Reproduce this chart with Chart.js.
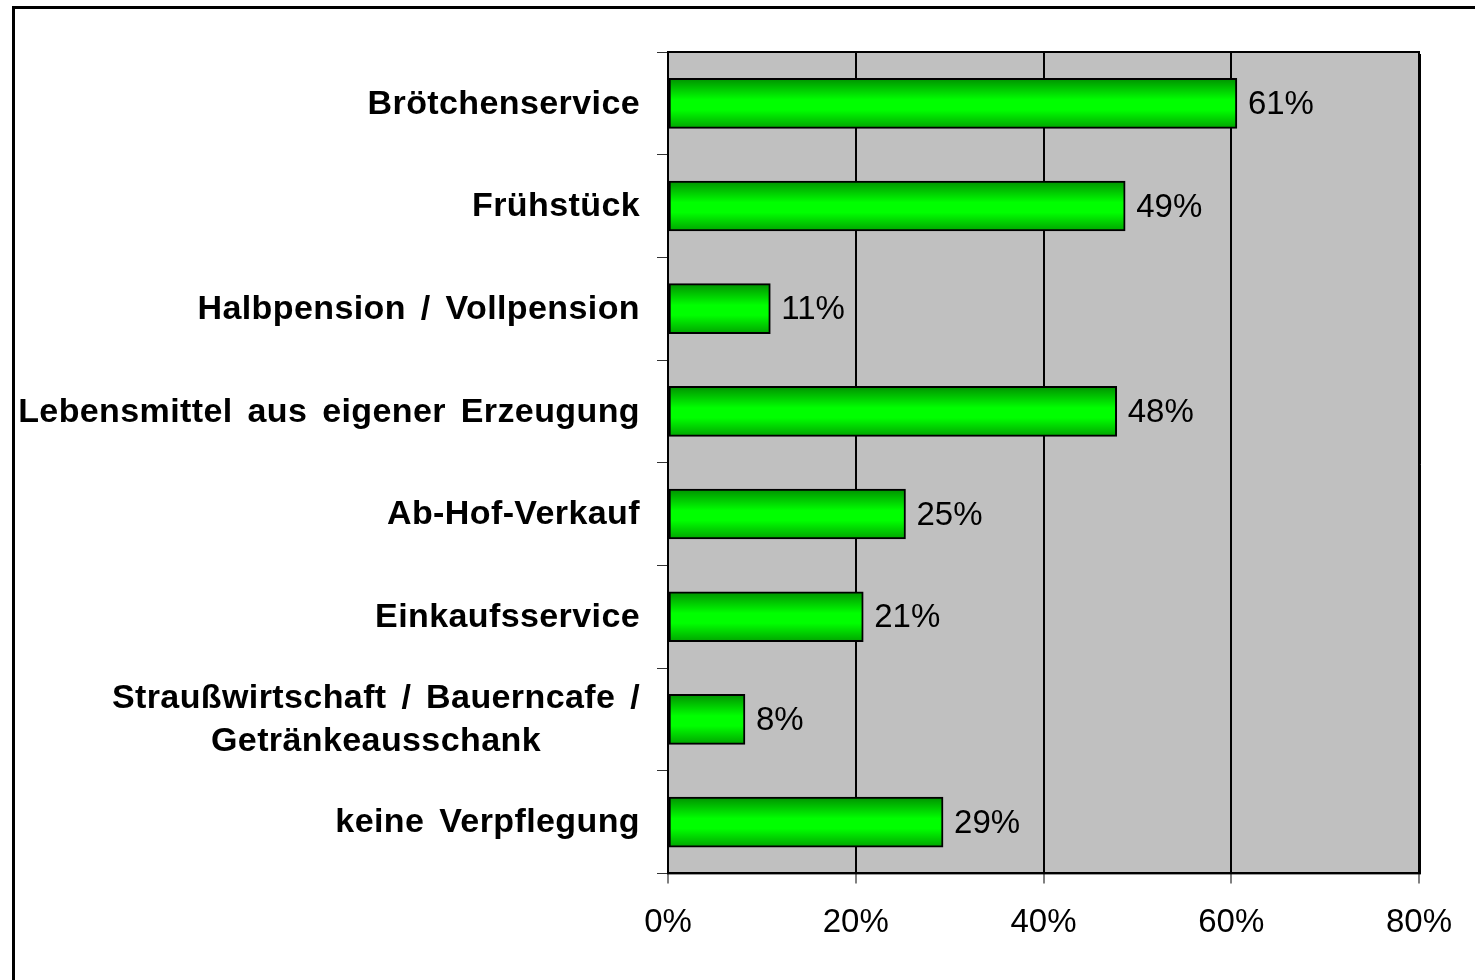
<!DOCTYPE html>
<html>
<head>
<meta charset="utf-8">
<script src="https://cdn.jsdelivr.net/npm/chart.js@4.4.0/dist/chart.umd.min.js"></script>
<style>
  html, body { margin: 0; padding: 0; background: #fff; }
  #wrap { width: 1475px; height: 980px; position: relative; }
</style>
</head>
<body>
<div id="wrap"><canvas id="c" width="1475" height="980"></canvas></div>
<script>
const categories = [
  'Brötchenservice',
  'Frühstück',
  'Halbpension / Vollpension',
  'Lebensmittel aus eigener Erzeugung',
  'Ab-Hof-Verkauf',
  'Einkaufsservice',
  ['Straußwirtschaft / Bauerncafe /', 'Getränkeausschank'],
  'keine Verpflegung'
];
const values = [60.6, 48.7, 10.9, 47.8, 25.3, 20.8, 8.2, 29.3];
const valueLabels = ['61%', '49%', '11%', '48%', '25%', '21%', '8%', '29%'];
const xTicks = [0, 20, 40, 60, 80];

const FONT = '"Liberation Sans", Arial, sans-serif';
const BAR_H = 50;

const framePlugin = {
  id: 'frame',
  beforeDraw(chart) {
    const { ctx, chartArea: a } = chart;
    ctx.save();
    ctx.fillStyle = '#ffffff';
    ctx.fillRect(0, 0, chart.width, chart.height);
    ctx.fillStyle = '#C0C0C0';
    ctx.fillRect(a.left, a.top, a.right - a.left, a.bottom - a.top);
    ctx.strokeStyle = '#000';
    ctx.lineWidth = 3;
    ctx.beginPath();
    ctx.moveTo(13.5, chart.height);
    ctx.lineTo(13.5, 7.5);
    ctx.lineTo(chart.width, 7.5);
    ctx.stroke();
    ctx.restore();
  },
  afterDraw(chart) {
    const { ctx, chartArea: a } = chart;
    const ys = chart.scales.y, xs = chart.scales.x;
    ctx.save();
    ctx.strokeStyle = '#000';
    ctx.lineWidth = 2;
    ctx.strokeRect(a.left, a.top, a.right - a.left, a.bottom - a.top);
    ctx.lineWidth = 1;
    ctx.beginPath();
    ctx.moveTo(a.right + 1.5, a.top + 2);
    ctx.lineTo(a.right + 1.5, a.bottom + 1);
    ctx.stroke();
    ctx.fillStyle = '#000';
    ctx.font = '33px ' + FONT;
    ctx.textAlign = 'left';
    ctx.textBaseline = 'middle';
    values.forEach((v, i) => {
      const x = xs.getPixelForValue(v);
      const y = ys.getPixelForValue(i) + 1.5;
      ctx.fillText(valueLabels[i], x + 11, y);
    });
    ctx.font = 'bold 34px ' + FONT;
    try { ctx.wordSpacing = '5px'; ctx.letterSpacing = '0.4px'; } catch (e) {}
    categories.forEach((lab, i) => {
      const y = ys.getPixelForValue(i) + 1;
      const right = 640;
      if (Array.isArray(lab)) {
        const w = Math.max(...lab.map(l => ctx.measureText(l).width));
        const cx = right - w / 2;
        ctx.textAlign = 'center';
        const step = 43;
        lab.forEach((l, k) => {
          ctx.fillText(l, cx, y + (k - (lab.length - 1) / 2) * step);
        });
      } else {
        ctx.textAlign = 'right';
        ctx.fillText(lab, right, y);
      }
    });
    ctx.restore();
  }
};

function barGradient(c) {
  const chart = c.chart;
  const ys = chart.scales && chart.scales.y;
  if (!ys || c.type !== 'data') return '#00ff00';
  const y = ys.getPixelForValue(c.dataIndex) + 1.5;
  if (!isFinite(y)) return '#00ff00';
  const g = chart.ctx.createLinearGradient(0, y - BAR_H / 2, 0, y + BAR_H / 2);
  g.addColorStop(0, '#009800');
  g.addColorStop(0.4, '#00FF00');
  g.addColorStop(0.6, '#00FF00');
  g.addColorStop(1, '#009C00');
  return g;
}

new Chart(document.getElementById('c'), {
  type: 'bar',
  data: {
    labels: categories,
    datasets: [{
      data: values,
      backgroundColor: barGradient,
      borderColor: '#000',
      borderWidth: 2,
      borderSkipped: false,
      barThickness: BAR_H
    }]
  },
  options: {
    indexAxis: 'y',
    responsive: false,
    animation: false,
    layout: { padding: { left: 657, top: 52, right: 56, bottom: 17 } },
    plugins: { legend: { display: false }, tooltip: { enabled: false } },
    scales: {
      x: {
        min: xTicks[0],
        max: xTicks[xTicks.length - 1],
        afterBuildTicks(scale) { scale.ticks = xTicks.map(v => ({ value: v })); },
        ticks: {
          callback: v => v + '%',
          font: { family: FONT, size: 33 },
          color: '#000',
          padding: 20,
          maxRotation: 0
        },
        grid: {
          color: '#000',
          lineWidth: 2,
          drawTicks: true,
          tickLength: 10,
          tickColor: '#808080',
          tickWidth: 2
        },
        border: { color: '#000', width: 2 }
      },
      y: {
        ticks: { display: false },
        grid: {
          drawOnChartArea: false,
          drawTicks: true,
          tickLength: 11,
          tickColor: '#333',
          tickWidth: 1,
          offset: true
        },
        border: { color: '#000', width: 2 }
      }
    }
  },
  plugins: [framePlugin]
});
</script>
</body>
</html>
